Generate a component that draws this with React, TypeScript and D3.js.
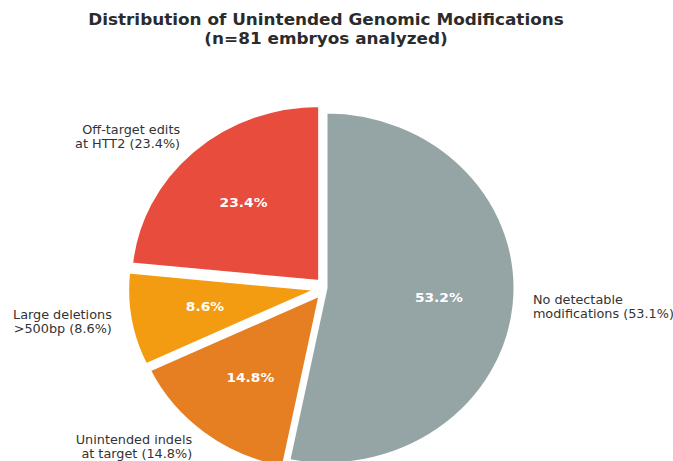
import React from "react";
import * as d3 from "d3";

const titleLines = ["Distribution of Unintended Genomic Modifications", "(n=81 embryos analyzed)"];
const categories = [
  ["Off-target edits", "at HTT2"],
  ["Large deletions", ">500bp"],
  ["Unintended indels", "at target"],
  ["No detectable", "modifications"],
];
const values = [23.4, 8.6, 14.8, 53.1];
const colors = ["#e74c3c", "#f39c12", "#e67e22", "#95a5a6"];
const explode = [0.05, 0.05, 0.05, 0];

const W = 673;
const H = 461;
const CX = 326;
const CY = 288;
const RX = 189;
const RY = 176;
const SX = 1.07;

export default function App() {
  const pie = d3.pie<number>().sort(null).startAngle(0).endAngle(-2 * Math.PI);
  const arcs = pie(values);
  const arcGen = d3.arc<d3.PieArcDatum<number>>().innerRadius(0).outerRadius(RX);
  const total = d3.sum(values);
  const fs = 12;
  const lh = fs * 1.17;

  return (
    <svg width={W} height={H} style={{ position: "absolute", left: 0, top: 0, background: "#fff" }}
      fontFamily="DejaVu Sans, sans-serif">
      {titleLines.map((t, i) => (
        <text key={i} x={0} y={0} textAnchor="middle" dominantBaseline="middle"
          fontWeight="bold" fontSize={15.75} fill="#2b2b2b"
          transform={`translate(${CX},${20.5 + i * 19}) scale(${SX},1)`}>{t}</text>
      ))}
      {arcs.map((a, i) => {
        const mid = (a.startAngle + a.endAngle) / 2;
        const sx = Math.sin(mid);
        const sy = -Math.cos(mid);
        const ox = CX + explode[i] * RX * sx;
        const oy = CY + explode[i] * RY * sy;
        return (
          <g key={i}>
            <g transform={`translate(${ox},${oy}) scale(1,${RY / RX})`}>
              <path d={arcGen(a) || ""} fill={colors[i]} stroke="#fff" strokeWidth={3}
                strokeLinejoin="round" vectorEffect="non-scaling-stroke" />
            </g>
          </g>
        );
      })}
      {arcs.map((a, i) => {
        const mid = (a.startAngle + a.endAngle) / 2;
        const sx = Math.sin(mid);
        const sy = -Math.cos(mid);
        const ox = CX + explode[i] * RX * sx;
        const oy = CY + explode[i] * RY * sy;
        const lx = ox + 1.1 * RX * sx;
        const ly = oy + 1.1 * RY * sy;
        const px = ox + 0.6 * RX * sx;
        const py = oy + 0.6 * RY * sy;
        const pct = (values[i] / total) * 100;
        const lines = [categories[i][0], `${categories[i][1]} (${values[i].toFixed(1)}%)`];
        return (
          <g key={i}>
            <text x={0} y={0} transform={`translate(${px},${py}) scale(${SX},1)`} textAnchor="middle"
              dominantBaseline="middle" fontWeight="bold" fontSize={12.9} fill="#fff">
              {pct.toFixed(1)}%
            </text>
            <g transform={`translate(${lx},${ly}) scale(${SX},1)`}>
              {lines.map((t, j) => (
                <text key={j} x={0} y={(j - (lines.length - 1) / 2) * lh}
                  textAnchor={sx < 0 ? "end" : "start"} dominantBaseline="middle"
                  fontSize={fs} fill="#333">{t}</text>
              ))}
            </g>
          </g>
        );
      })}
    </svg>
  );
}
